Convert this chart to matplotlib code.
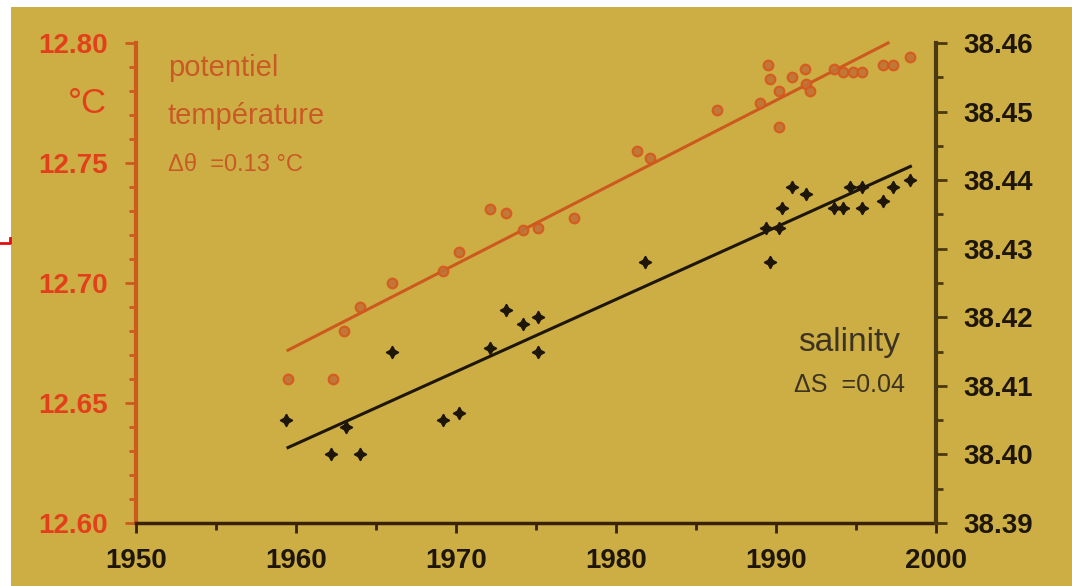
import matplotlib
matplotlib.use("Agg")
import matplotlib.pyplot as plt
from matplotlib.patches import Rectangle
from matplotlib.lines import Line2D
from matplotlib.ticker import MultipleLocator

# potential temperature (deg C) by year
temp_years = [1959.5, 1962.3, 1963.0, 1964.0, 1966.0, 1969.2, 1970.2, 1972.1, 1973.1,
              1974.2, 1975.1, 1977.4, 1981.3, 1982.1, 1986.3, 1989.0, 1989.5, 1989.6,
              1990.2, 1990.2, 1991.0, 1991.8, 1991.9, 1992.1, 1993.6, 1994.2, 1994.8,
              1995.4, 1996.7, 1997.3, 1998.4]
temp_vals = [12.660, 12.660, 12.680, 12.690, 12.700, 12.705, 12.713, 12.731, 12.729,
             12.722, 12.723, 12.727, 12.755, 12.752, 12.772, 12.775, 12.791, 12.785,
             12.780, 12.765, 12.786, 12.789, 12.783, 12.780, 12.789, 12.788, 12.788,
             12.788, 12.791, 12.791, 12.794]

# salinity by year
sal_years = [1959.4, 1962.2, 1963.1, 1964.0, 1966.0, 1969.2, 1970.2, 1972.1, 1973.1,
             1974.2, 1975.1, 1975.1, 1981.8, 1989.4, 1989.6, 1990.2, 1990.4, 1991.0,
             1991.9, 1993.6, 1994.2, 1994.6, 1995.4, 1995.4, 1996.7, 1997.3, 1998.4]
sal_vals = [38.405, 38.400, 38.404, 38.400, 38.415, 38.405, 38.406, 38.4155, 38.421,
            38.419, 38.420, 38.415, 38.428, 38.433, 38.428, 38.433, 38.436, 38.439,
            38.438, 38.436, 38.436, 38.439, 38.439, 38.436, 38.437, 38.439, 38.440]

# linear trends (start / end)
temp_trend_years = [1959.5, 1997.0]
temp_trend_vals = [12.672, 12.800]
sal_trend_years = [1959.5, 1998.4]
sal_trend_vals = [38.401, 38.442]

year_ticks = [1950, 1960, 1970, 1980, 1990, 2000]
temp_ticks = [12.60, 12.65, 12.70, 12.75, 12.80]
sal_ticks = [38.39, 38.40, 38.41, 38.42, 38.43, 38.44, 38.45, 38.46]

BG = '#cdae44'
ORANGE = '#cc5a1e'
RED = '#e2401a'
TXT_OR = '#c95a26'
DARK = '#1e160a'
SPINE_R = '#4a3810'

plt.rcParams['font.family'] = ['Liberation Sans', 'DejaVu Sans']

W, H = 1072, 586
fig = plt.figure(figsize=(W / 100, H / 100), dpi=100)
fig.patch.set_facecolor('white')
fig.patches.append(Rectangle((11 / W, 0), 1, (H - 7) / H, transform=fig.transFigure,
                             facecolor=BG, edgecolor='none', zorder=-10))
fig.add_artist(Line2D([0, 10 / W, 10 / W], [1 - 243 / H, 1 - 243 / H, 1 - 238 / H],
                      color='#e01010', lw=2))

ax = fig.add_axes([136 / W, 63 / H, 800 / W, 480 / H])
ax.set_facecolor('none')
ax2 = ax.twinx()
ax2.set_facecolor('none')

ax.set_xlim(1950, 2000)
ax.set_ylim(12.60, 12.80)
ax2.set_ylim(38.39, 38.46)

for s in ['top', 'right']:
    ax.spines[s].set_visible(False)
for s in ['top', 'left', 'bottom']:
    ax2.spines[s].set_visible(False)
ax.spines['left'].set_color(ORANGE)
ax.spines['left'].set_linewidth(3)
ax.spines['bottom'].set_color('#3a2208')
ax.spines['bottom'].set_linewidth(2.5)
ax2.spines['right'].set_color(SPINE_R)
ax2.spines['right'].set_linewidth(3)

ax.set_xticks(year_ticks, [str(y) for y in year_ticks], fontweight='bold', fontsize=20)
ax.xaxis.set_minor_locator(MultipleLocator(5))
ax.tick_params(axis='x', which='both', direction='out', color='#3a2208', width=2,
               labelcolor=DARK, pad=11)
ax.tick_params(axis='x', which='major', length=7)
ax.tick_params(axis='x', which='minor', length=5)

ax.set_yticks(temp_ticks, ['%.2f' % t for t in temp_ticks], fontweight='bold', fontsize=20)
ax.yaxis.set_minor_locator(MultipleLocator(0.01))
ax.tick_params(axis='y', which='both', direction='out', color=ORANGE, width=2,
               labelcolor=RED, pad=12)
ax.tick_params(axis='y', which='major', length=8)
ax.tick_params(axis='y', which='minor', length=5)

ax2.set_yticks(sal_ticks, ['%.2f' % t for t in sal_ticks], fontweight='bold', fontsize=20)
ax2.yaxis.set_minor_locator(MultipleLocator(0.005))
ax2.tick_params(axis='y', which='both', direction='out', color=SPINE_R, width=2,
                labelcolor=DARK, pad=12)
ax2.tick_params(axis='y', which='major', length=8)
ax2.tick_params(axis='y', which='minor', length=5)

# temperature: circles + trend
ax.plot(temp_trend_years, temp_trend_vals, color=ORANGE, lw=2.2, clip_on=False, zorder=3)
ax.plot(temp_years, temp_vals, 'o', ms=7, mfc='#bf7236', mec='#d8561e', mew=1.5,
        alpha=0.9, zorder=4)

# salinity: crosses + trend
ax2.plot(sal_trend_years, sal_trend_vals, color=DARK, lw=2.2, zorder=3)
ax2.plot(sal_years, sal_vals, ls='none', marker=(4, 1, 0), ms=9, color=DARK, zorder=4)

# annotations
ax.text(-0.061, 0.873, '°C', transform=ax.transAxes, color=RED, fontsize=25,
        ha='center', va='center')
ax.text(0.04, 0.948, 'potentiel', transform=ax.transAxes, color=TXT_OR, fontsize=21,
        ha='left', va='center')
ax.text(0.04, 0.848, 'température', transform=ax.transAxes, color=TXT_OR, fontsize=21,
        ha='left', va='center')
ax.text(0.04, 0.746, 'Δθ  =0.13 °C', transform=ax.transAxes, color=TXT_OR, fontsize=17,
        ha='left', va='center')
ax.text(0.955, 0.377, 'salinity', transform=ax.transAxes, color='#3d3322', fontsize=24,
        ha='right', va='center')
ax.text(0.961, 0.287, 'ΔS  =0.04', transform=ax.transAxes, color='#3d3322', fontsize=18,
        ha='right', va='center')

fig.savefig('out.png', dpi=100, facecolor=fig.get_facecolor())
